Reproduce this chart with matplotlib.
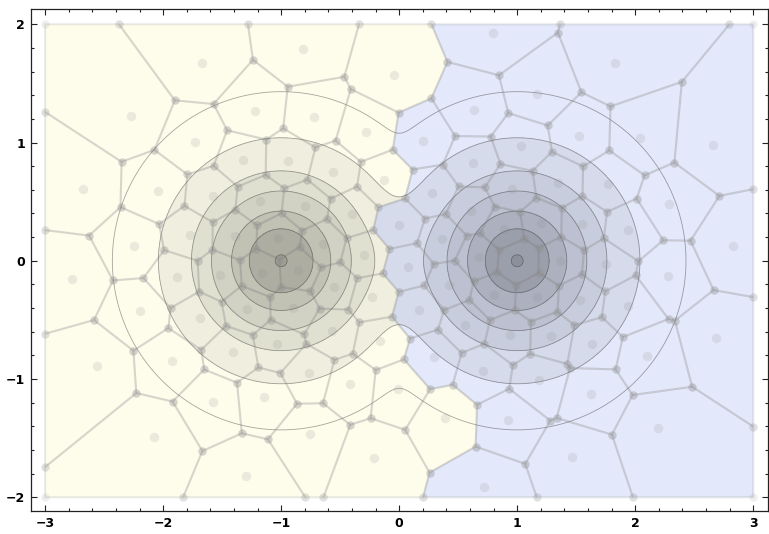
import numpy as np
import matplotlib
matplotlib.use("Agg")
import matplotlib.pyplot as plt
from matplotlib.patches import Polygon
from matplotlib.ticker import MultipleLocator

# ---- data -------------------------------------------------------------
# Voronoi generators, grouped by the cluster they belong to
left_x = [-1.667, -2.27, -1.73, -1.22, -2.675, -2.04, -1.579, -1.32, -1.178, -2.243,
          -1.771, -1.39, -1.023, -0.819, -0.04, -0.718, -0.28, -0.938, -0.562, -0.125,
          -0.797, -0.40, -0.647, -0.294, -2.769, -2.2, -1.884, -1.517, -1.164, -2.562,
          -1.926, -1.686, -1.286, -1.41, -1.031, -1.579, -1.142, -2.076, -1.297, -0.853,
          -0.551, -0.226, -0.896, -0.565, -0.161, -0.763, -0.415, -0.011, -0.754, -0.209,
          0.39]
left_y = [1.67, 1.227, 1.005, 1.27, 0.604, 0.589, 0.547, 0.848, 0.505, 0.126,
          0.216, 0.21, 0.196, 1.79, 1.572, 1.215, 1.086, 0.842, 0.749, 0.68,
          0.463, 0.393, 0.14, 0.05, -0.154, -0.427, -0.14, -0.12, -0.10, -0.893,
          -0.85, -0.486, -0.41, -0.772, -0.707, -1.193, -1.151, -1.493, -1.819, -0.08,
          -0.219, -0.309, -0.40, -0.598, -0.682, -0.946, -1.038, -1.081, -1.468, -1.67,
          -1.328]

right_x = [0.799, 0.63, 0.206, 0.624, 0.277, 0.0, 0.362, 0.608, 0.884, 0.955,
           0.68, 1.0, 1.825, 1.172, 1.525, 2.042, 2.655, 1.034, 1.342, 1.769,
           2.282, 1.943, 1.548, 1.203, 2.825, 1.364, 1.75, 0.073, 0.164, 0.559,
           0.424, 0.805, 0.291, 0.714, 0.941, 0.921, 0.723, 1.167, 1.528, 1.938,
           2.274, 1.286, 1.638, 2.104, 2.686, 1.186, 1.625, 2.189, 1.463]
right_y = [1.928, 1.277, 1.01, 0.828, 0.575, 0.30, 0.183, 0.421, 0.267, 0.604,
           0.03, 0.0, 1.67, 1.412, 1.053, 1.039, 0.982, 0.974, 0.66, 0.651,
           0.477, 0.261, 0.309, 0.317, 0.126, 0.0, -0.03, -0.05, -0.415, -0.541,
           -0.205, -0.29, -0.814, -0.932, -0.63, -1.347, -1.917, -0.31, -0.33, -0.385,
           -0.132, -0.637, -0.702, -0.806, -0.654, -1.005, -1.123, -1.418, -1.662]

# two centres of the radial field and its contour radii
centers = [(-1.0, 0.0), (1.0, 0.0)]
contour_radii = [1.43, 1.04, 0.76, 0.59, 0.42, 0.27, 0.05]
shaded_radii = [1.04, 0.76, 0.59, 0.42, 0.27, 0.05]
shade_alpha = [0.055, 0.062, 0.06, 0.08, 0.10, 0.08]

xticks = [-3, -2, -1, 0, 1, 2, 3]
yticks = [-2, -1, 0, 1, 2]
box = (-3.0, 3.0, -2.0, 2.0)

# ---- Voronoi cells by half-plane clipping -----------------------------
pts = np.array(list(zip(left_x + right_x, left_y + right_y)))
side = [0] * len(left_x) + [1] * len(right_x)


def clip(poly, d, c):
    out = []
    m = len(poly)
    for k in range(m):
        a, b = poly[k], poly[(k + 1) % m]
        fa, fb = d @ a - c, d @ b - c
        if fa <= 0:
            out.append(a)
        if fa * fb < 0:
            t = fa / (fa - fb)
            out.append(a + t * (b - a))
    return out


def voronoi_cell(i):
    x0, x1, y0, y1 = box
    poly = [np.array(p, float) for p in [(x0, y0), (x1, y0), (x1, y1), (x0, y1)]]
    p = pts[i]
    for j in range(len(pts)):
        if j == i:
            continue
        q = pts[j]
        d = q - p
        c = (q @ q - p @ p) / 2.0
        poly = clip(poly, d, c)
    return np.array(poly)


cells = [voronoi_cell(i) for i in range(len(pts))]

fills = ["#FEFDEC", "#E3E8FA"]

fig = plt.figure(figsize=(7.69, 5.34), dpi=100)
ax = fig.add_axes([0.0399, 0.0431, 0.9588, 0.9400])

for poly, s in zip(cells, side):
    ax.add_patch(Polygon(poly, closed=True, facecolor=fills[s], edgecolor="none", zorder=1))

# ---- radial field: soft minimum of distances to the two centres -------
gx = np.linspace(-3, 3, 1201)
gy = np.linspace(-2, 2, 801)
X, Y = np.meshgrid(gx, gy)
k = 0.72
r1 = np.hypot(X - centers[0][0], Y - centers[0][1])
r2 = np.hypot(X - centers[1][0], Y - centers[1][1])
G = -k * np.logaddexp(-r1 ** 4 / k, -r2 ** 4 / k)
D = np.maximum(G, 0.0) ** 0.25

for R, a in zip(shaded_radii, shade_alpha):
    ax.contourf(X, Y, D, levels=[-1.0, R], colors=["#000000"], alpha=a, zorder=2)
ax.contour(X, Y, D, levels=sorted(contour_radii), colors=["#3a3a3a"],
           linewidths=0.6, alpha=0.45, zorder=3)

# ---- cell edges, vertices and generators ------------------------------
for poly in cells:
    closed = np.vstack([poly, poly[:1]])
    ax.plot(closed[:, 0], closed[:, 1], color="#7a7a7a", lw=1.5, alpha=0.16,
            solid_joinstyle="round", solid_capstyle="round", zorder=4)
    ax.plot(poly[:, 0], poly[:, 1], ls="none", marker="o", ms=6.0,
            mfc="#909090", mec="none", alpha=0.14, zorder=5)

ax.plot(pts[:, 0], pts[:, 1], ls="none", marker="o", ms=6.8,
        mfc="#8c8c8c", mec="none", alpha=0.17, zorder=6)

# ---- frame ------------------------------------------------------------
ax.set_xlim(-3.122, 3.125)
ax.set_ylim(-2.116, 2.129)
ax.set_xticks(xticks)
ax.set_yticks(yticks)
ax.xaxis.set_minor_locator(MultipleLocator(0.2))
ax.yaxis.set_minor_locator(MultipleLocator(0.2))
ax.tick_params(which="both", direction="in", top=True, right=True,
               labeltop=False, labelright=False, width=0.8, color="#222222")
ax.tick_params(which="major", length=4.5, pad=4)
ax.tick_params(which="minor", length=2.5)
for lab in ax.get_xticklabels() + ax.get_yticklabels():
    lab.set_fontweight("bold")
    lab.set_fontsize(9)
for sp in ax.spines.values():
    sp.set_linewidth(0.9)
    sp.set_color("#222222")

fig.savefig("out.png", dpi=100)
